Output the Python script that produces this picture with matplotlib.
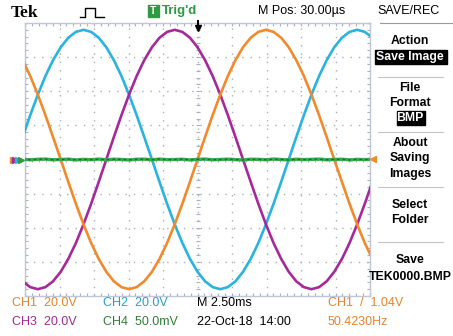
import matplotlib.pyplot as plt
from matplotlib.lines import Line2D
from matplotlib.patches import Rectangle

W, H = 453, 336

# sample times (ms), trigger point in the middle of the screen
t_ms = [-12.67, -12.12, -11.57, -11.02, -10.47, -9.91, -9.36, -8.81, -8.26, -7.71,
        -7.16, -6.61, -6.06, -5.51, -4.96, -4.41, -3.86, -3.30, -2.75, -2.20,
        -1.65, -1.10, -0.55, 0.0, 0.55, 1.10, 1.65, 2.20, 2.75, 3.30,
        3.86, 4.41, 4.96, 5.51, 6.06, 6.61, 7.16, 7.71, 8.26, 8.81,
        9.36, 9.91, 10.47, 11.02, 11.57, 12.12, 12.67]

# channel readings (V), 20 V/div
ch1_v = [58.2, 48.9, 38.0, 26.0, 13.2, 0.0, -13.2, -26.0, -38.0, -48.9,
         -58.2, -65.8, -71.4, -74.8, -76.0, -74.8, -71.4, -65.8, -58.2, -48.9,
         -38.0, -26.0, -13.2, 0.0, 13.2, 26.0, 38.0, 48.9, 58.2, 65.8,
         71.4, 74.8, 76.0, 74.8, 71.4, 65.8, 58.2, 48.9, 38.0, 26.0,
         13.2, 0.0, -13.2, -26.0, -38.0, -48.9, -58.2]
ch2_v = [13.2, 26.0, 38.0, 48.9, 58.2, 65.8, 71.4, 74.8, 76.0, 74.8,
         71.4, 65.8, 58.2, 48.9, 38.0, 26.0, 13.2, 0.0, -13.2, -26.0,
         -38.0, -48.9, -58.2, -65.8, -71.4, -74.8, -76.0, -74.8, -71.4, -65.8,
         -58.2, -48.9, -38.0, -26.0, -13.2, 0.0, 13.2, 26.0, 38.0, 48.9,
         58.2, 65.8, 71.4, 74.8, 76.0, 74.8, 71.4]
ch3_v = [-71.4, -74.8, -76.0, -74.8, -71.4, -65.8, -58.2, -48.9, -38.0, -26.0,
         -13.2, 0.0, 13.2, 26.0, 38.0, 48.9, 58.2, 65.8, 71.4, 74.8,
         76.0, 74.8, 71.4, 65.8, 58.2, 48.9, 38.0, 26.0, 13.2, 0.0,
         -13.2, -26.0, -38.0, -48.9, -58.2, -65.8, -71.4, -74.8, -76.0, -74.8,
         -71.4, -65.8, -58.2, -48.9, -38.0, -26.0, -13.2]
# CH4 (mV), 50 mV/div - basically flat, a little noise
ch4_mv = [0.5, -0.5, 0.3, 0.6, -0.4, 0.0, 0.5, -0.6, 0.2, -0.3, 0.6, -0.4, 0.4, 0.0,
          -0.6, 0.3, 0.5, -0.4, 0.6, -0.2, 0.0, 0.4, -0.6, 0.2, 0.6, -0.4, 0.0, 0.5,
          -0.2, -0.6, 0.4, 0.2, -0.4, 0.6, 0.0, -0.6, 0.4, -0.2, 0.2, 0.6, -0.4, 0.0,
          0.4, -0.6, 0.2, -0.2, 0.4]

volts_div = {"ch1": 20.0, "ch2": 20.0, "ch3": 20.0, "ch4": 50.0}

orange = "#F08A2C"
cyan = "#2BB3E0"
magenta = "#A6299A"
green = "#2E9A42"

fig = plt.figure(figsize=(W / 100, H / 100), dpi=100)
fig.patch.set_facecolor("white")


def px(x, y):
    return x / W, 1 - y / H


def txt(x, y, s, **kw):
    kw.setdefault("fontsize", 9)
    kw.setdefault("family", "Liberation Sans")
    kw.setdefault("va", "center")
    fig.text(*px(x, y), s, **kw)


# graticule
ax = fig.add_axes([25 / W, 40 / H, 345 / W, 273 / H])
ax.set_xlim(-12.5, 12.5)
ax.set_ylim(-4, 4)
ax.set_xticks([-12.5 + 2.5 * i for i in range(11)])
ax.set_yticks(range(-4, 5))
ax.set_xticks([-12.5 + 0.5 * i for i in range(51)], minor=True)
ax.set_yticks([-4 + 0.2 * i for i in range(41)], minor=True)
ax.set_xticklabels([])
ax.set_yticklabels([])
ax.tick_params(which="both", direction="in", top=True, right=True,
               length=2.5, width=0.8, color="#aab0c4")
ax.grid(True, which="major", color="#a8aec4", linestyle=(0, (1, 5)), linewidth=1)
for s in ax.spines.values():
    s.set_color("#c0c6d6")
    s.set_linewidth(1)
# centre cross ticks
ax.plot([-12.5 + 0.5 * i for i in range(51)], [0] * 51, "|", color="#aab0c4",
        ms=3, mew=0.8)
ax.plot([0] * 41, [-4 + 0.2 * i for i in range(41)], "_", color="#aab0c4",
        ms=3, mew=0.8)

ax.plot(t_ms, [v / volts_div["ch2"] for v in ch2_v], color=cyan, lw=1.9, zorder=3)
ax.plot(t_ms, [v / volts_div["ch3"] for v in ch3_v], color=magenta, lw=1.9, zorder=3)
ax.plot(t_ms, [v / volts_div["ch1"] for v in ch1_v], color=orange, lw=1.9, zorder=3)
ax.plot(t_ms, [v / volts_div["ch4"] for v in ch4_mv], color="#3aa84c", lw=2.4, zorder=4)
ax.plot(t_ms, [v / volts_div["ch4"] for v in ch4_mv], color="#1c6a2a", lw=0.9,
        ls=(0, (2, 2.5)), zorder=4)

# ground / trigger level markers
for xm, c in [(13, orange), (15, magenta), (18, cyan), (21, green)]:
    fig.add_artist(Line2D([xm / W], [1 - 160 / H], marker=">", color=c, ms=5,
                          transform=fig.transFigure))
fig.add_artist(Line2D([373 / W], [1 - 159 / H], marker="<", color=orange, ms=5,
                      transform=fig.transFigure))
# trigger position arrow
fig.add_artist(Line2D([198 / W, 198 / W], [1 - 21 / H, 1 - 28 / H], color="black",
                      lw=1.5, transform=fig.transFigure))
fig.add_artist(Line2D([198 / W], [1 - 28 / H], marker="v", color="black", ms=5,
                      transform=fig.transFigure))

# top bar
txt(11, 13, "Tek", family="Liberation Serif", fontsize=12.5, weight="bold")
pulse_x = [80, 85, 85, 95, 95, 104]
pulse_y = [17, 17, 8, 8, 17, 17]
fig.add_artist(Line2D([x / W for x in pulse_x], [1 - y / H for y in pulse_y],
                      color="black", lw=1, transform=fig.transFigure))
fig.add_artist(Rectangle(px(148, 17), 11 / W, 12 / H, color="#2E9A42",
                         transform=fig.transFigure))
txt(153.5, 11.5, "T", color="white", weight="bold", ha="center", fontsize=7.5)
txt(162, 11, "Trig'd", color="#2E9A42", weight="bold", fontsize=9.5)
txt(258, 11, "M Pos: 30.00\u00b5s")
txt(409, 11, "SAVE/REC", ha="center")

# side menu
fig.add_artist(Line2D([380 / W, 452 / W], [1 - 23 / H] * 2, color="#9a9a9a", lw=0.8,
                      transform=fig.transFigure))
for ys in [77, 132, 187, 242]:
    fig.add_artist(Line2D([378 / W, 443 / W], [1 - ys / H] * 2, color="#c4c4c4",
                          lw=0.8, transform=fig.transFigure))
fig.add_artist(Rectangle(px(375, 64), 72 / W, 14 / H, color="black",
                         transform=fig.transFigure))
fig.add_artist(Rectangle(px(397, 125), 28 / W, 14 / H, color="black",
                         transform=fig.transFigure))
menu = [(41, "Action", "black"), (57, "Save Image", "white"),
        (88, "File", "black"), (103, "Format", "black"), (118, "BMP", "white"),
        (143, "About", "black"), (158, "Saving", "black"), (174, "Images", "black"),
        (205, "Select", "black"), (220, "Folder", "black"),
        (260, "Save", "black"), (277, "TEK0000.BMP", "black")]
for ym, s, c in menu:
    txt(410, ym, s, color=c, ha="center", fontsize=8.8, weight="bold")

# readout
txt(12, 303, "CH1  20.0V", color="#E5832C")
txt(12, 322, "CH3  20.0V", color="#9C2C8E")
txt(103, 303, "CH2  20.0V", color="#2C9EC2")
txt(103, 322, "CH4  50.0mV", color="#2F7D36")
txt(197, 303, "M 2.50ms")
txt(197, 322, "22-Oct-18  14:00")
txt(328, 303, "CH1  /  1.04V", color="#E5832C")
txt(328, 322, "50.4230Hz", color="#E5832C")

fig.savefig("out.png", dpi=100)
